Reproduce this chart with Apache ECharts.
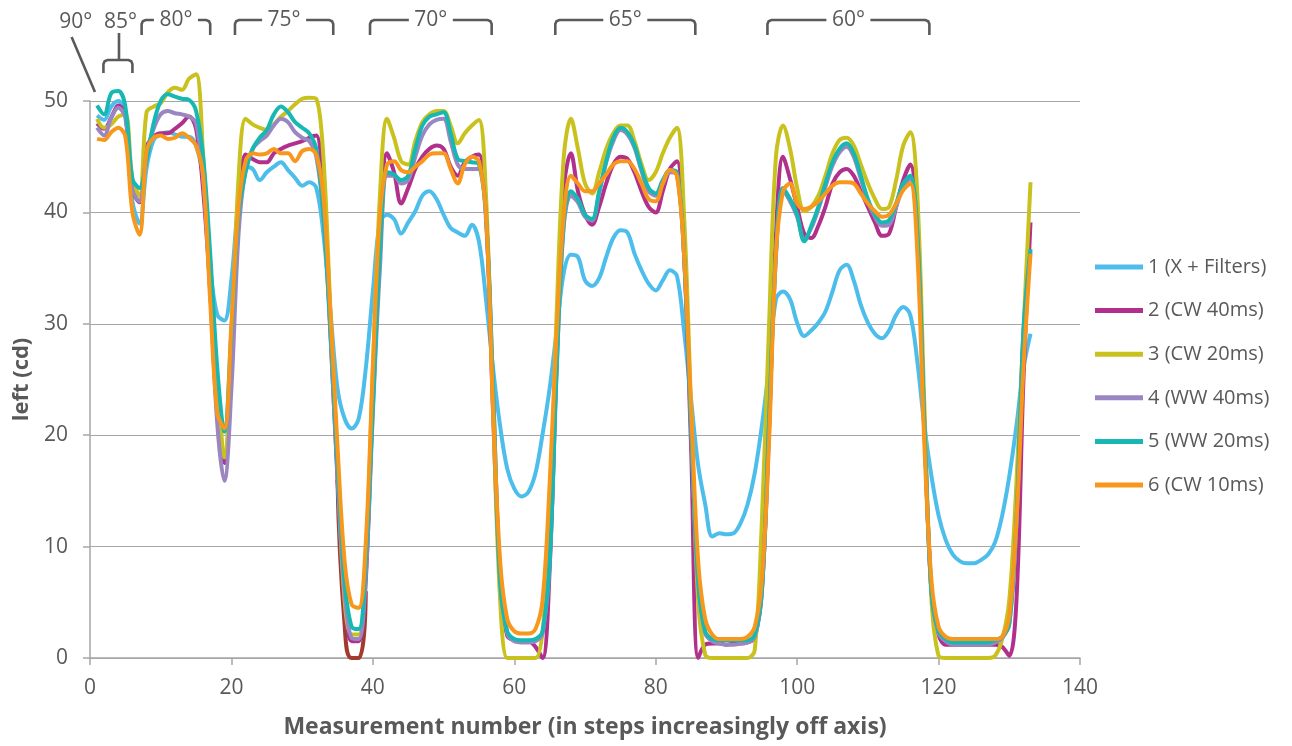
<!DOCTYPE html>
<html>
<head>
<meta charset="utf-8">
<script src="https://cdn.jsdelivr.net/npm/echarts@6/dist/echarts.min.js"></script>
<style>html,body{margin:0;padding:0;background:#fff;}#c{width:1292px;height:746px;}</style>
</head>
<body>
<div id="c"></div>
<script>
// ---- data ----
const seriesNames = ['1 (X + Filters)', '2 (CW 40ms)', '3 (CW 20ms)', '4 (WW 40ms)', '5 (WW 20ms)', '6 (CW 10ms)'];
const xStart = 1;
const s1 = [48.7,48.3,49.5,50,49,41,39,44,46.5,47,47.2,47,46.8,46.8,46,43,35,30.8,30.3,34,41,44.1,43.9,42.9,43.6,44.1,44.5,43.8,43.1,42.4,42.7,42.2,38.1,31.1,24.2,21.5,20.6,21.5,26,32.9,39.1,39.8,39.4,38.1,39.1,40.1,41.5,41.9,41.2,39.8,38.6,38.2,37.9,38.9,37.4,32.2,26,20.8,17,15.2,14.5,14.9,16.6,20.1,24.2,29.4,34.6,36.2,36,33.9,33.4,34.1,36,37.7,38.4,38.2,36.3,34.8,33.6,33,33.9,34.8,34.3,29.4,23.2,17.3,13.8,10.9,11.2,11.1,11.2,12.1,13.8,16.6,20.8,26,32.2,32.9,32.2,30.1,28.9,29.4,30.1,31.1,32.9,34.8,35.3,33.9,31.7,30.1,29.1,28.7,29.4,30.8,31.5,30.8,26.6,20.8,16.3,12.8,10.6,9.3,8.7,8.5,8.5,8.8,9.3,10.4,12.8,16.3,20.8,26,29.1];
const s2 = [48,47.5,48.5,49.6,48.8,42,40.9,45.9,46.8,47.1,47.1,47.5,48,48.6,47.5,42,33,22,17.5,26,40,45.2,44.8,44.5,44.5,45.3,45.7,46,46.2,46.4,46.7,46.9,41.5,29.4,16,5,1.5,1.5,7,24,38,45.3,43.6,40.8,42.2,43.9,45,45.7,46,45.7,44.1,43.3,44.5,45,45.2,40,22,7,2,1.6,1.5,1.5,1,0,8,27,42.2,45.3,41.9,39.8,38.9,40.5,42.6,44.3,45,44.8,43.6,41.9,40.5,40,41.9,43.9,44.6,36.3,19,0,1.2,1.3,1.3,1.2,1.3,1.3,1.4,1.8,6,20,38,45,43,40.5,38.1,37.7,38.8,40.5,42.6,43.6,43.9,43.3,41.9,40.5,39.1,37.9,38.1,40.5,42.9,44.3,38.1,20.8,5.9,2.1,1.2,1.2,1.2,1.2,1.2,1.2,1.2,1.2,1,0.2,5,25,39.1];
const s3 = [48.4,47.6,47.9,48.6,48.8,43,41.5,49,49.5,49.8,50.8,51.2,51,52,52.4,45,33,25,18,28,43,48.4,47.9,47.6,47.4,47.9,48.6,49.1,49.7,50.2,50.3,50.2,45,31.1,17.3,5.2,2.1,2.1,8.7,26,41.5,48.4,46.7,44.6,44.3,46.4,48.1,48.8,49.1,49.1,47.8,46.2,47.1,47.8,48.3,41.5,22.5,5.2,0,0,0,0,0,2.4,12.1,31.1,45,48.4,45.7,42.6,41.7,43.6,45.7,47.1,47.8,47.8,46.4,44.3,42.9,43.6,45.3,46.7,47.6,39.8,22.5,5.2,0.3,0,0,0,0,0,0,0.7,12.1,29.4,45,47.8,45.7,42.2,40.1,40.5,41.5,43.3,45.3,46.5,46.7,46,44.3,42.6,41.2,40.3,40.5,42.9,46,47.2,41.5,22.5,5.2,0.2,0,0,0,0,0,0,0,0.2,1.7,5.2,15.6,29.4,42.7];
const s4 = [47.6,46.9,48.5,49.4,48.5,42,41,45.3,47.5,48.8,49.1,48.9,48.8,48.6,48,43,33,21,15.9,24.2,38,43.9,45.7,46.4,46.9,47.8,48.4,48.1,47.2,46.7,46.4,45,39.8,29,16.5,6,1.8,1.7,7.5,22,35,43.3,43.3,42.6,42.9,45,46.9,47.9,48.3,48.4,46.4,44.3,43.9,43.9,43.9,39.3,24,6.9,2.2,1.5,1.4,1.4,1.5,2.2,8.5,26,38.8,41.5,40.9,39.6,39.3,41.7,44.5,46.4,47.4,47,45.8,43.7,41.9,41.5,42.6,43.6,43.4,36.3,20.8,6.9,2.2,1.5,1.3,1.2,1.2,1.3,1.4,1.9,5.8,20.5,36,42,41,39.6,37.6,38.6,40.3,42.3,44.2,45.4,45.9,45,43,41,39.6,38.8,38.9,40.5,42.3,43,38,20.8,5.9,2.2,1.5,1.2,1.2,1.2,1.2,1.2,1.2,1.4,1.8,3,12,29,36.5];
const s5 = [49.6,48.8,50.7,50.9,49.5,43,42.2,44.7,48,50,50.6,50.4,50.2,50.1,49.1,45,36.3,26,20.3,29.4,39.8,43.6,45.7,46.7,47.4,48.8,49.5,49,48.1,47.6,47.1,45.7,39.8,29.4,17.3,6.9,2.8,2.6,8.7,22.5,36.3,43.6,43.4,42.9,43.3,45.7,47.8,48.6,48.8,49,47.1,44.8,44.6,44.5,44.3,39.8,24.2,6.9,2.4,1.7,1.6,1.6,1.7,2.4,8.7,26,39.1,41.9,41.2,39.8,39.4,41.9,44.6,46.7,47.6,47.2,46,43.9,42.2,41.7,42.9,43.8,43.6,36.3,20.8,6.9,2.4,1.7,1.6,1.6,1.6,1.6,1.6,2.1,5.9,20.8,36.3,42.2,41.2,39.8,37.4,38.8,40.5,42.6,44.5,45.7,46.2,45.3,43.3,41.2,39.8,39.1,39.3,40.8,42.6,43.3,38.1,20.8,5.9,2.4,1.7,1.4,1.4,1.4,1.4,1.4,1.4,1.6,1.9,3.1,12.1,29.4,36.7];
const s6 = [46.6,46.5,47.2,47.6,46.8,40,38,45.5,46.7,46.9,46.6,46.7,47.1,46.7,46,43.3,32,22,20.6,30,40.5,44.6,45.3,45.2,45.3,45.7,45.3,45.3,44.6,45.5,45.7,45.2,41.5,31,19,8.7,4.8,4.5,10.4,26,39.8,44.3,44.6,43.8,43.6,44.1,44.6,45.2,45.3,45.3,43.9,42.6,44.3,45,44.6,39.8,22.5,8.7,3.5,2.4,2.2,2.2,2.6,5.2,15.6,29.4,39.8,43.3,42.6,41.9,41.9,42.6,43.4,44.3,44.6,44.6,43.9,42.6,41.2,41,42.6,43.8,43.3,36.3,22.5,8.7,3.5,2.1,1.7,1.7,1.7,1.7,1.9,2.8,6.9,19,36.3,41.9,42.6,40.8,40.3,40.5,41,41.7,42.4,42.7,42.7,42.6,41.7,40.8,40.1,39.6,39.8,40.8,42,42.6,36.3,19,6.9,2.8,1.9,1.7,1.7,1.7,1.7,1.7,1.7,1.7,1.9,3.8,12.1,26,36.3];
// unlabelled trace, visible only at one trough
const s7Start = 35;
const s7 = [16, 3, 0, 0, 6];
const seriesColors = ['#4DBDEB', '#B0308C', '#C9C21E', '#9A87C2', '#17B8B4', '#F7981C'];
const xTicks = [0, 20, 40, 60, 80, 100, 120, 140];
const bracketLabels = ['80°', '75°', '70°', '65°', '60°'];
const bracketStart = [7.3, 20.5, 39.6, 65.8, 95.8];
const bracketEnd = [17, 34.4, 56.8, 85.6, 118.7];

// ---- build ----
const allSeries = [s1, s2, s3, s4, s5, s6];
const toPairs = (arr, start) => arr.map((v, i) => [start + i, v]);
const FONT = "'Open Sans', 'Noto Sans', sans-serif";
const TXT = '#595959';

const chart = echarts.init(document.getElementById('c'), null, {renderer: 'canvas'});
const series = [{
  name: 'hidden', type: 'line', data: toPairs(s7, s7Start), smooth: true, showSymbol: false,
  lineStyle: {width: 4, color: '#A23A2E'}, clip: true, silent: true, z: 1
}].concat(allSeries.map((arr, i) => ({
  name: seriesNames[i], type: 'line', data: toPairs(arr, xStart), smooth: 0.35,
  showSymbol: false, symbol: 'none', clip: false,
  lineStyle: {width: 4, color: seriesColors[i]}, itemStyle: {color: seriesColors[i]}, z: 2 + i
})));

chart.setOption({
  animation: false,
  textStyle: {fontFamily: FONT},
  grid: {left: 90, right: 212, top: 101, bottom: 88},
  xAxis: {
    type: 'value', min: xTicks[0], max: xTicks[xTicks.length - 1], interval: 20,
    name: 'Measurement number (in steps increasingly off axis)', nameLocation: 'middle', nameGap: 58,
    nameTextStyle: {fontFamily: FONT, fontSize: 23, fontWeight: 'bold', color: TXT},
    axisLine: {show: true, lineStyle: {color: '#A6A6A6', width: 1.5}},
    axisTick: {show: true, length: 7, lineStyle: {color: '#A6A6A6', width: 1.5}},
    axisLabel: {fontFamily: FONT, fontSize: 21, color: TXT, margin: 20},
    splitLine: {show: false}
  },
  yAxis: {
    type: 'value', min: 0, max: 50, interval: 10,
    name: 'left (cd)', nameLocation: 'middle', nameGap: 54, nameRotate: 90,
    nameTextStyle: {fontFamily: FONT, fontSize: 22, fontWeight: 'bold', color: TXT},
    axisLine: {show: true, lineStyle: {color: '#A6A6A6', width: 1.5}},
    axisTick: {show: true, length: 7, lineStyle: {color: '#A6A6A6', width: 1.5}},
    axisLabel: {fontFamily: FONT, fontSize: 21, color: TXT, margin: 22},
    splitLine: {show: true, lineStyle: {color: '#A6A6A6', width: 1.2}}
  },
  legend: {
    data: seriesNames, orient: 'vertical', left: 1095, top: 257, padding: 0,
    icon: 'rect', itemWidth: 48, itemHeight: 5, itemGap: 23.6,
    textStyle: {fontFamily: FONT, fontSize: 20, color: TXT, lineHeight: 20, padding: [0, 0, 0, 0]}
  },
  series: series
});

// ---- annotations (brackets) positioned through the axes ----
const px = v => chart.convertToPixel({xAxisIndex: 0}, v);
const yTop = chart.convertToPixel({yAxisIndex: 0}, 50);
const lineY = yTop - 81, legY = yTop - 66;
const st = {stroke: '#5A5A5A', lineWidth: 2.6, fill: null};
const txtStyle = (t, x, y) => ({type: 'text', x: x, y: y, style: {text: t, fill: TXT, font: '21px ' + FONT, align: 'center', verticalAlign: 'middle'}, z: 100});
const g = [];
bracketLabels.forEach((lab, i) => {
  const a = px(bracketStart[i]), b = px(bracketEnd[i]), c = (a + b) / 2;
  g.push({type: 'polyline', shape: {points: [[a, legY], [a, lineY + 4], [a + 1.2, lineY + 1.2], [a + 4, lineY], [c - 22, lineY]]}, style: st, z: 100});
  g.push({type: 'polyline', shape: {points: [[c + 22, lineY], [b - 4, lineY], [b - 1.2, lineY + 1.2], [b, lineY + 4], [b, legY]]}, style: st, z: 100});
  g.push(txtStyle(lab, c, lineY));
});
// 85° brace
const a85 = px(1.9), b85 = px(6), c85 = px(4.1);
const braceY = yTop - 41, braceLeg = yTop - 28, stemTop = yTop - 68;
g.push({type: 'polyline', shape: {points: [[a85, braceLeg], [a85, braceY + 4], [a85 + 1.2, braceY + 1.2], [a85 + 4, braceY], [b85 - 4, braceY], [b85 - 1.2, braceY + 1.2], [b85, braceY + 4], [b85, braceLeg]]}, style: st, z: 100});
g.push({type: 'line', shape: {x1: c85, y1: braceY, x2: c85, y2: stemTop}, style: st, z: 100});
g.push(txtStyle('85°', px(4.3), yTop - 79));
// 90° pointer
g.push({type: 'line', shape: {x1: px(-2.6), y1: yTop - 64, x2: px(0.7), y2: yTop - 9}, style: st, z: 100});
g.push(txtStyle('90°', px(-2), yTop - 79));
chart.setOption({graphic: {elements: g}});
</script>
</body>
</html>
